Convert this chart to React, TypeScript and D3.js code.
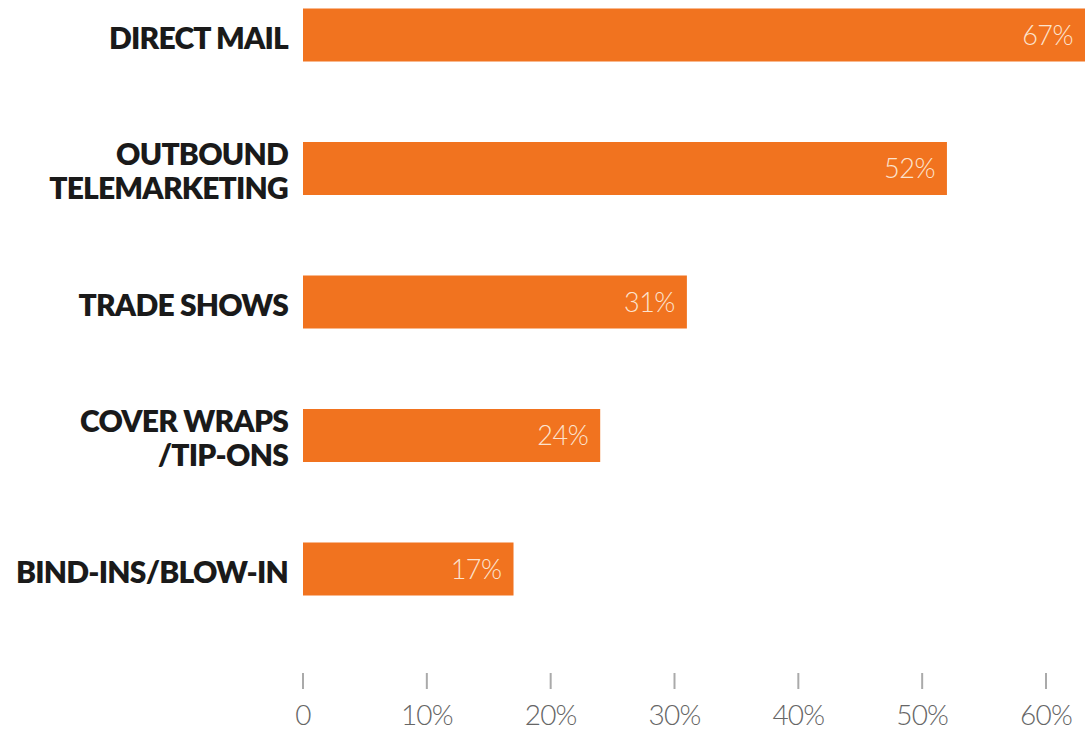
import React from "react";
import * as d3 from "d3";

const categories: string[][] = [
  ["DIRECT MAIL"],
  ["OUTBOUND", "TELEMARKETING"],
  ["TRADE SHOWS"],
  ["COVER WRAPS", "/TIP-ONS"],
  ["BIND-INS/BLOW-IN"],
];
const values: number[] = [67, 52, 31, 24, 17];
const tickValues: number[] = [0, 10, 20, 30, 40, 50, 60];
const tickLabels: string[] = ["0", "10%", "20%", "30%", "40%", "50%", "60%"];

const W = 1085;
const H = 733;
const BAR_COLOR = "#F1731F";

export default function App() {
  const x = d3.scaleLinear().domain([0, 60]).range([303, 1046]);
  const y = d3
    .scalePoint<number>()
    .domain(d3.range(categories.length))
    .range([35, 569]);
  const barH = 53;
  const lineH = 34;

  return (
    <svg
      width={W}
      height={H}
      style={{ position: "absolute", left: 0, top: 0, background: "#fff" }}
    >
      {categories.map((lines, i) => {
        const cy = y(i)!;
        const v = values[i];
        const x1 = x(v);
        return (
          <g key={i}>
            <rect
              x={x(0)}
              y={cy - barH / 2}
              width={x1 - x(0)}
              height={barH}
              fill={BAR_COLOR}
            />
            <text
              x={Math.min(x1, W) - 12}
              y={cy}
              dy="0.36em"
              textAnchor="end"
              fill="#FCE3CF"
              fontFamily="Lato, sans-serif"
              fontWeight={300}
              fontSize={27}
              letterSpacing={-0.5}
            >
              {v}%
            </text>
            {lines.map((ln, j) => (
              <text
                key={j}
                x={288}
                y={cy + 3 + (j - (lines.length - 1) / 2) * lineH}
                dy="0.35em"
                textAnchor="end"
                fill="#1a1a1a"
                fontFamily="Lato, sans-serif"
                fontWeight={800}
                fontSize={30}
                letterSpacing={-0.8}
              >
                {ln}
              </text>
            ))}
          </g>
        );
      })}
      <g>
        {tickValues.map((t, i) => (
          <g key={t} transform={`translate(${x(t)},0)`}>
            <line y1={673} y2={689} stroke="#aaa" strokeWidth={2} />
            <text
              y={715}
              dy="0.35em"
              textAnchor="middle"
              fill="#666"
              fontFamily="Lato, sans-serif"
              fontWeight={300}
              fontSize={28}
              letterSpacing={-0.8}
            >
              {tickLabels[i]}
            </text>
          </g>
        ))}
      </g>
    </svg>
  );
}
